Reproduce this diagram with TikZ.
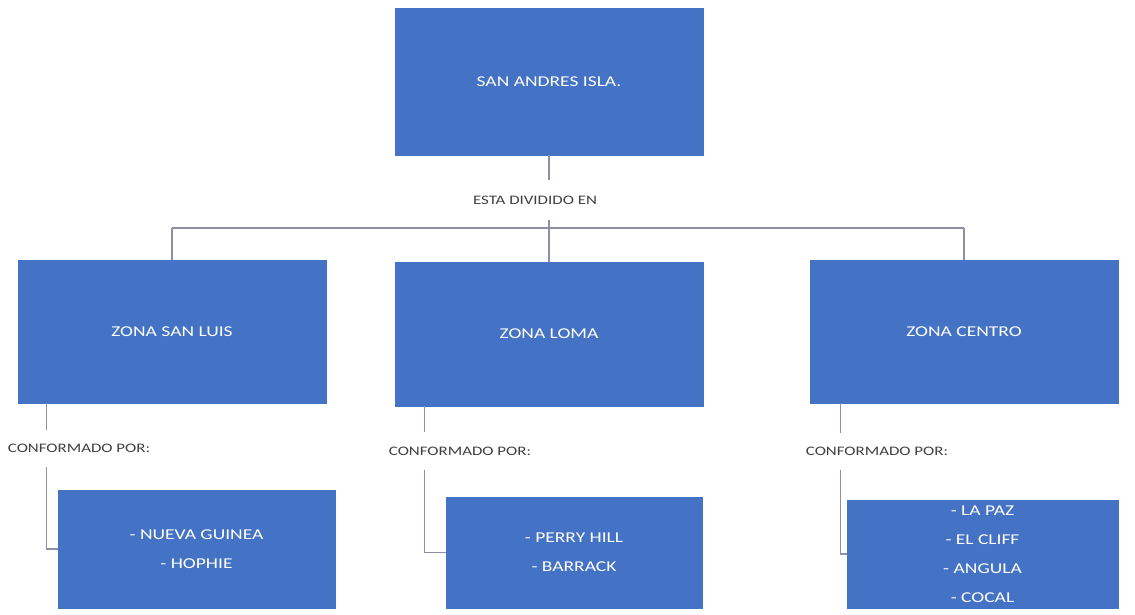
\documentclass[tikz,border=0pt]{standalone}
\usepackage{fontspec}
\newfontfamily\boxfont[FakeStretch=1.3]{Carlito}
\definecolor{boxblue}{HTML}{4472C4}
\definecolor{linegray}{HTML}{8C90A2}
\definecolor{labgray}{HTML}{404040}
\tikzset{
  zbox/.style={rectangle, fill=boxblue, draw=boxblue, inner sep=0pt, align=center,
    text=white, font={\boxfont\fontsize{15}{29}\selectfont}},
  lab/.style={inner sep=0pt, text=labgray, font={\boxfont\fontsize{13}{16}\selectfont}},
  conn/.style={draw=linegray, line width=1.3pt}
}
\begin{document}
\begin{tikzpicture}[x=1pt,y=-1pt]
\useasboundingbox (0,0) rectangle (1135,615);
% main boxes
\node[zbox, minimum width=308pt, minimum height=147pt] (top) at (549,81.5) {SAN ANDRES ISLA.};
\node[zbox, minimum width=308pt, minimum height=143pt] (zsl) at (172,331.5) {ZONA SAN LUIS};
\node[zbox, minimum width=308pt, minimum height=144pt] (zlo) at (549,334) {ZONA LOMA};
\node[zbox, minimum width=308pt, minimum height=143pt] (zce) at (964,331.5) {ZONA CENTRO};
% sub boxes
\node[zbox, minimum width=277pt, minimum height=118pt] (s1) at (196.5,549) {- NUEVA GUINEA\\- HOPHIE};
\node[zbox, minimum width=256pt, minimum height=111pt] (s2) at (574,552.5) {- PERRY HILL\\- BARRACK};
\node[zbox, minimum width=271pt, minimum height=108pt] (s3) at (982.5,554) {- LA PAZ\\- EL CLIFF\\- ANGULA\\- COCAL};
% labels
\node[lab, minimum height=40pt] (l0) at (535,200) {ESTA DIVIDIDO EN};
\node[lab, minimum height=37pt] (l1) at (79,448.5) {CONFORMADO POR:};
\node[lab, minimum height=38pt] (l2) at (460,451) {CONFORMADO POR:};
\node[lab, minimum height=37pt] (l3) at (877,451.5) {CONFORMADO POR:};
% bar coordinates
\coordinate (bl) at (172,228);
\coordinate (bm) at (549,228);
\coordinate (br) at (964,228);
% connectors top level
\draw[conn] (top.south) -- (top.south |- l0.north);
\draw[conn] (top.south |- l0.south) -- (bm);
\draw[conn] (bl) -- (br);
\draw[conn] (bl) -- (zsl.north);
\draw[conn] (bm) -- (zlo.north);
\draw[conn] (br) -- (zce.north);
% connectors to sub boxes
\coordinate (a1) at ([xshift=29pt]zsl.south west);
\coordinate (a2) at ([xshift=30pt]zlo.south west);
\coordinate (a3) at ([xshift=31pt]zce.south west);
\draw[conn] (a1) -- (a1 |- l1.north);
\draw[conn] (a1 |- l1.south) -- (a1 |- s1.west) -- (s1.west);
\draw[conn] (a2) -- (a2 |- l2.north);
\draw[conn] (a2 |- l2.south) -- (a2 |- s2.west) -- (s2.west);
\draw[conn] (a3) -- (a3 |- l3.north);
\draw[conn] (a3 |- l3.south) -- (a3 |- s3.west) -- (s3.west);
\end{tikzpicture}
\end{document}
